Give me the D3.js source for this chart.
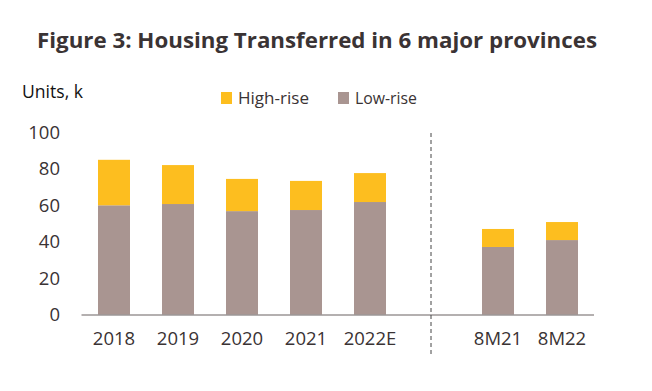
<!DOCTYPE html>
<html><head><meta charset="utf-8">
<script src="https://cdn.jsdelivr.net/npm/d3@7"></script>
<style>body{margin:0;background:#fff;}svg{display:block;font-family:"Open Sans",sans-serif;}</style>
</head><body><svg id="c" width="652" height="391"></svg>
<script>
const categories = ["2018","2019","2020","2021","2022E","","8M21","8M22"];
const lowRise  = [60, 60.7, 56.8, 57.4, 61.8, null, 37.1, 40.9];
const highRise = [25, 21.4, 17.7, 16.0, 15.9, null, 9.9, 9.9];
const yTicks = [0,20,40,60,80,100];
const seriesNames = ["High-rise","Low-rise"];
const colors = {"High-rise":"#FDBE1F","Low-rise":"#A99591"};
const textColor = "#3a3334";

const svg = d3.select("#c");
const x = d3.scaleBand().domain(categories).range([82,594]).paddingInner(0.5).paddingOuter(0.25);
const y = d3.scaleLinear().domain([0,100]).range([314.5,132.5]);

svg.append("text").attr("x",37).attr("y",48)
  .attr("font-size",21).attr("font-weight","bold").attr("fill",textColor)
  .attr("textLength",560).attr("lengthAdjust","spacingAndGlyphs")
  .text("Figure 3: Housing Transferred in 6 major provinces");

svg.append("text").attr("x",22).attr("y",98).attr("font-size",17.5).attr("fill","#111")
  .attr("textLength",61).attr("lengthAdjust","spacingAndGlyphs")
  .text("Units, k");

// legend
const leg = [{n:"High-rise",x:221,w:71},{n:"Low-rise",x:338,w:62}];
leg.forEach(l=>{
  svg.append("rect").attr("x",l.x).attr("y",92).attr("width",11).attr("height",12).attr("fill",colors[l.n]);
  svg.append("text").attr("x",l.x+17).attr("y",104).attr("font-size",17).attr("fill",textColor)
    .attr("textLength",l.w).attr("lengthAdjust","spacingAndGlyphs").text(l.n);
});

// y labels
svg.append("g").selectAll("text").data(yTicks).join("text")
  .attr("x",60).attr("y",d=>y(d)+6.5).attr("text-anchor","end")
  .attr("font-size",18.5).attr("fill",textColor).text(d=>d);

const data = categories.map((c,i)=>({c,low:lowRise[i],high:highRise[i]})).filter(d=>d.low!=null);
svg.append("g").selectAll("rect").data(data).join("rect")
  .attr("x",d=>x(d.c)).attr("width",x.bandwidth())
  .attr("y",d=>y(d.low)).attr("height",d=>y(0)-y(d.low)).attr("fill",colors["Low-rise"]);
svg.append("g").selectAll("rect").data(data).join("rect")
  .attr("x",d=>x(d.c)).attr("width",x.bandwidth())
  .attr("y",d=>y(d.low+d.high)).attr("height",d=>y(d.low)-y(d.low+d.high)).attr("fill",colors["High-rise"]);

// x axis
const xa = svg.append("g").attr("transform","translate(0,315)")
  .call(d3.axisBottom(x).tickSize(0).tickPadding(17).tickSizeOuter(0));
xa.select(".domain").attr("stroke","#6b6262").attr("stroke-width",1.2).attr("d","M81.5,0H594");
xa.selectAll("text").attr("font-size",18.5).attr("fill",textColor).attr("font-family","Open Sans");

// dashed separator
const sx = x("")+x.bandwidth()/2 - 3;
svg.append("line").attr("x1",sx).attr("x2",sx).attr("y1",133).attr("y2",356)
  .attr("stroke","#444").attr("stroke-width",1).attr("stroke-dasharray","4,3");
</script></body></html>
